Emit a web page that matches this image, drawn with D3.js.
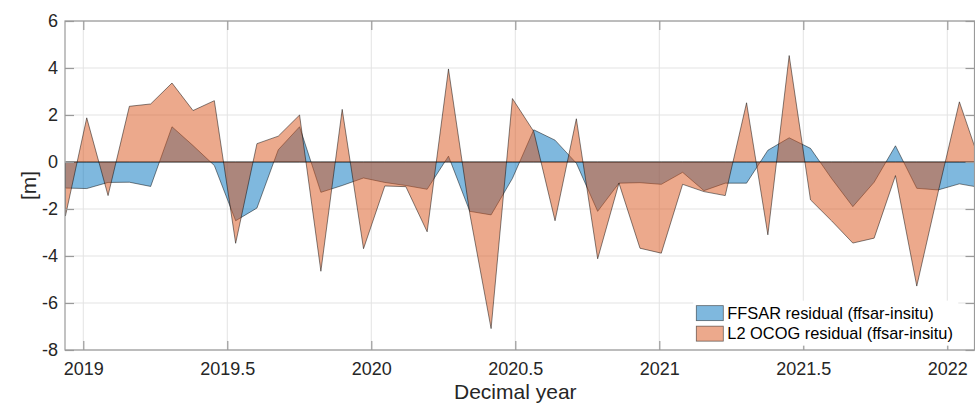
<!DOCTYPE html>
<html>
<head>
<meta charset="utf-8">
<script src="https://cdn.jsdelivr.net/npm/d3@7"></script>
<style>
  body { margin: 0; background: #fff; }
  svg { display: block; font-family: "Liberation Sans", Arial, Helvetica, sans-serif; }
</style>
</head>
<body>
<svg id="viz" width="975" height="404"></svg>
<script>
// Decimal year of each pass (27-day repeat)
const years = [
  2018.938, 2019.012, 2019.086, 2019.160, 2019.234, 2019.308, 2019.381, 2019.455,
  2019.529, 2019.603, 2019.677, 2019.751, 2019.825, 2019.899, 2019.973, 2020.047,
  2020.120, 2020.194, 2020.268, 2020.342, 2020.416, 2020.490, 2020.564, 2020.638,
  2020.712, 2020.786, 2020.860, 2020.933, 2021.007, 2021.081, 2021.155, 2021.229,
  2021.303, 2021.377, 2021.451, 2021.525, 2021.598, 2021.672, 2021.746, 2021.820,
  2021.894, 2021.968, 2022.042, 2022.116
];

// FFSAR residual (ffsar-insitu), metres
const ffsar = [
  -1.11, -1.13, -0.87, -0.86, -1.04, 1.50, 0.70, -0.15,
  -2.50, -1.96, 0.52, 1.50, -1.29, -1.00, -0.68, -0.87,
  -1.00, -1.16, 0.25, -2.10, -2.25, -0.70, 1.37, 0.93,
  -0.05, -2.10, -0.90, -0.88, -0.95, -0.44, -1.22, -0.90,
  -0.90, 0.50, 1.03, 0.58, -0.70, -1.90, -0.86, 0.69,
  -1.12, -1.19, -0.93, -1.09
];

// L2 OCOG residual (ffsar-insitu), metres
const ocog = [
  -2.30, 1.88, -1.43, 2.37, 2.47, 3.36, 2.19, 2.61,
  -3.46, 0.78, 1.10, 2.00, -4.65, 2.24, -3.69, -1.02,
  -1.05, -2.97, 3.96, -2.20, -7.09, 2.70, 1.30, -2.50,
  1.84, -4.12, -0.90, -3.67, -3.88, -0.95, -1.26, -1.43,
  2.52, -3.10, 4.53, -1.61, -2.50, -3.45, -3.24, -0.58,
  -5.28, -1.30, 2.56, -0.10
];

const seriesNames = ['FFSAR residual (ffsar-insitu)', 'L2 OCOG residual (ffsar-insitu)'];
const xTicks = [2019, 2019.5, 2020, 2020.5, 2021, 2021.5, 2022];
const yTicks = [-8, -6, -4, -2, 0, 2, 4, 6];

const svg = d3.select('#viz');
const margin = { top: 21, right: 0, bottom: 54, left: 65 };
const width  = +svg.attr('width')  - margin.left - margin.right;
const height = +svg.attr('height') - margin.top  - margin.bottom;
const g = svg.append('g').attr('transform', `translate(${margin.left},${margin.top})`);

const x = d3.scaleLinear().domain([2018.9365, 2022.0962]).range([0, width]);
const y = d3.scaleLinear().domain([-8, 6]).range([height, 0]);

// Grid
g.append('g').selectAll('line').data(xTicks).join('line')
  .attr('x1', d => x(d)).attr('x2', d => x(d))
  .attr('y1', 0).attr('y2', height)
  .attr('stroke', '#e3e3e3').attr('stroke-width', 1);
g.append('g').selectAll('line').data(yTicks).join('line')
  .attr('x1', 0).attr('x2', width)
  .attr('y1', d => y(d)).attr('y2', d => y(d))
  .attr('stroke', '#e3e3e3').attr('stroke-width', 1);

// Areas
svg.append('defs').append('clipPath').attr('id', 'clip')
  .append('rect').attr('width', width).attr('height', height);

const colors = ['#0072BD', '#D95319'];
const area = d3.area()
  .x(d => x(d[0]))
  .y0(y(0))
  .y1(d => y(d[1]));

const plot = g.append('g').attr('clip-path', 'url(#clip)');
[ffsar, ocog].forEach((vals, i) => {
  const pts = years.map((t, k) => [t, vals[k]]);
  plot.append('path')
    .attr('d', area(pts))
    .attr('fill', colors[i])
    .attr('fill-opacity', 0.5)
    .attr('stroke', '#000')
    .attr('stroke-opacity', 0.6)
    .attr('stroke-width', 0.8);
});

// Axes (MATLAB-style box with inward ticks)
const axisColor = '#9a9a9a';
const tickLen = 9;
const plain = d => String(d);   // hyphen minus like the original
g.append('rect')
  .attr('x', 0).attr('y', 0).attr('width', width - 0.5).attr('height', height)
  .attr('fill', 'none').attr('stroke', axisColor).attr('stroke-width', 1.2);

const xb = g.append('g').attr('transform', `translate(0,${height})`)
  .call(d3.axisBottom(x).tickValues(xTicks).tickSizeInner(-tickLen).tickSizeOuter(0).tickPadding(12)
    .tickFormat(plain));
const xt = g.append('g')
  .call(d3.axisTop(x).tickValues(xTicks).tickSizeInner(-tickLen).tickSizeOuter(0).tickFormat(''));
const yl = g.append('g')
  .call(d3.axisLeft(y).tickValues(yTicks).tickSizeInner(-tickLen).tickSizeOuter(0).tickPadding(7)
    .tickFormat(plain));
const yr = g.append('g').attr('transform', `translate(${width - 0.5},0)`)
  .call(d3.axisRight(y).tickValues(yTicks).tickSizeInner(-tickLen).tickSizeOuter(0).tickFormat(''));

[xb, xt, yl, yr].forEach(a => {
  a.select('.domain').remove();
  a.selectAll('.tick line').attr('stroke', axisColor).attr('stroke-width', 1.2);
  a.selectAll('.tick text')
    .attr('fill', '#262626')
    .style('font-size', '18px')
    .style('font-family', '"Liberation Sans", Arial, Helvetica, sans-serif');
});

// Axis labels
svg.append('text')
  .attr('x', margin.left + x(2020.5)).attr('y', 399)
  .attr('text-anchor', 'middle')
  .attr('fill', '#262626')
  .style('font-size', '21px')
  .text('Decimal year');

svg.append('text')
  .attr('transform', `translate(36,${margin.top + height / 2}) rotate(-90)`)
  .attr('text-anchor', 'middle')
  .attr('fill', '#262626')
  .style('font-size', '21px')
  .text('[m]');

// Legend
const legend = g.append('g').attr('transform', `translate(${x(2021.0) + 34},${y(-5.9)})`);
legend.append('rect')
  .attr('x', 0).attr('y', 0).attr('width', 265).attr('height', 45)
  .attr('fill', '#fff');
seriesNames.forEach((name, i) => {
  const row = legend.append('g').attr('transform', `translate(3,${5 + i * 20.5})`);
  row.append('rect')
    .attr('width', 27).attr('height', 15)
    .attr('fill', colors[i]).attr('fill-opacity', 0.5)
    .attr('stroke', '#000').attr('stroke-opacity', 0.55).attr('stroke-width', 0.8);
  row.append('text')
    .attr('x', 31).attr('y', 13)
    .attr('fill', '#000')
    .style('font-size', '16.4px')
    .text(name);
});
</script>
</body>
</html>
